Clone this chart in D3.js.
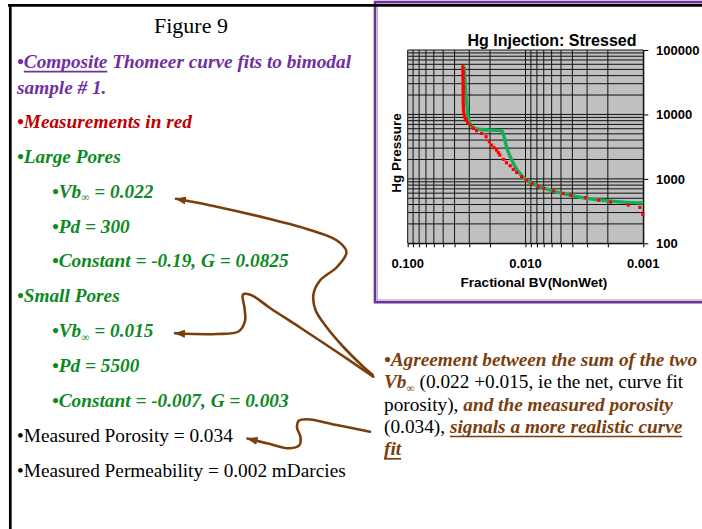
<!DOCTYPE html>
<html>
<head>
<meta charset="utf-8">
<script src="https://cdn.jsdelivr.net/npm/d3@7"></script>
<style>
  html, body { margin: 0; padding: 0; background: #fff; }
  svg { display: block; }
  text { white-space: pre; }
</style>
</head>
<body>
<svg id="slide" width="702" height="529"></svg>
<script>
// ---- Hg injection (stressed) data ----
const bvTicks = [0.1, 0.01, 0.001];
const bvTickLabels = ["0.100", "0.010", "0.001"];
const pressureTicks = [100, 1000, 10000, 100000];
const pressureTickLabels = ["100", "1000", "10000", "100000"];

// Measured points: fractional bulk volume vs. mercury pressure
const measuredBV = [
  0.0340, 0.0340, 0.0340, 0.0339, 0.0339, 0.0339, 0.0339, 0.0338, 0.0338, 0.0338, 0.0338,
  0.0338, 0.0338, 0.0338, 0.0338, 0.0338, 0.0338, 0.0337, 0.0337, 0.0336, 0.0334, 0.0330,
  0.0324, 0.0318, 0.0310, 0.0296, 0.0277, 0.0260, 0.0236, 0.0216, 0.0203, 0.0194, 0.0185,
  0.0176, 0.0170, 0.0165, 0.0154, 0.0145, 0.0135, 0.0127, 0.0119, 0.0108, 0.0098, 0.0088,
  0.0078, 0.0070, 0.0058, 0.0048, 0.0041, 0.0031, 0.0024, 0.0019, 0.00134, 0.00107, 0.00101
];
const measuredPressure = [
  55000, 51000, 47000, 43500, 40000, 37000, 34000, 31500, 29000, 26800, 24700,
  22800, 21000, 19300, 17800, 16400, 15000, 13800, 12700, 11600, 10600, 9700,
  8700, 8100, 7440, 6850, 6080, 5590, 5080, 4510, 3770, 3350, 3040,
  2800, 2550, 2340, 2010, 1780, 1600, 1400, 1260, 1080, 958, 850,
  773, 711, 647, 595, 554, 509, 469, 436, 392, 361, 281
];

// Composite (bimodal) Thomeer fit
const fitBV = [
  0.0331, 0.0325, 0.0320, 0.0314, 0.0306, 0.0292, 0.0268, 0.0243, 0.0200, 0.0159,
  0.0152, 0.0145, 0.0131, 0.0115, 0.0098, 0.0075, 0.0058, 0.0042, 0.0030, 0.0022,
  0.00148, 0.0010
];
const fitPressure = [
  55000, 30000, 20000, 13500, 8700, 6850, 6080, 5870, 5700, 5580,
  4500, 3150, 1960, 1290, 957, 754, 647, 560, 497, 463,
  436, 421
];

// ---- colours / fonts ----
const purple = "#7030a0", darkRed = "#c00000", green = "#0d8a1f",
      brown = "#7a3e0d", fitGreen = "#16ad5a", markRed = "#ff0000";
const serif = "'Liberation Serif', 'Times New Roman', serif";
const sans = "'Liberation Sans', Arial, sans-serif";

const svg = d3.select("#slide");
svg.append("rect").attr("width", 702).attr("height", 529).attr("fill", "#fff");

const defs = svg.append("defs");
defs.append("marker")
  .attr("id", "arrowHead")
  .attr("viewBox", "0 0 11 8")
  .attr("refX", 10).attr("refY", 4)
  .attr("markerWidth", 11).attr("markerHeight", 8)
  .attr("markerUnits", "userSpaceOnUse")
  .attr("orient", "auto")
  .append("path").attr("d", "M0,0 L11,4 L0,8 Z").attr("fill", brown);

// ---- chart panel frame ----
svg.append("rect")
  .attr("x", 375).attr("y", 2).attr("width", 340).attr("height", 300.2)
  .attr("fill", "#fff").attr("stroke", purple).attr("stroke-width", 2.6);
svg.append("rect")
  .attr("x", 377.3).attr("y", 4).attr("width", 340).attr("height", 296)
  .attr("fill", "none").attr("stroke", "#a0a0a0").attr("stroke-width", 1);

// ---- plot ----
const plot = { left: 407.7, right: 643.3, top: 50, bottom: 243.3 };
const x = d3.scaleLog().domain([0.1, 0.001]).range([plot.left, plot.right]);
const y = d3.scaleLog().domain([100, 100000]).range([plot.bottom, plot.top]);

const chart = svg.append("g");
chart.append("rect")
  .attr("x", plot.left).attr("y", plot.top)
  .attr("width", plot.right - plot.left).attr("height", plot.bottom - plot.top)
  .attr("fill", "#c0c0c0");

// log gridlines (every 1..9 multiple of each decade)
chart.append("g").selectAll("line.vx").data(x.ticks()).join("line")
  .attr("x1", d => x(d)).attr("x2", d => x(d))
  .attr("y1", plot.top).attr("y2", plot.bottom)
  .attr("stroke", "#111").attr("stroke-width", 1);
chart.append("g").selectAll("line.hy").data(y.ticks()).join("line")
  .attr("x1", plot.left).attr("x2", plot.right)
  .attr("y1", d => y(d)).attr("y2", d => y(d))
  .attr("stroke", "#111").attr("stroke-width", 1);

// bottom axis: ticks at every gridline, labels on decades
const xAxis = chart.append("g")
  .attr("transform", `translate(0,${plot.bottom})`)
  .call(d3.axisBottom(x).tickValues(x.ticks()).tickSize(4).tickSizeOuter(0).tickFormat(""));
xAxis.select(".domain").attr("stroke", "#000");
xAxis.selectAll(".tick line").attr("stroke", "#000");
chart.append("g").selectAll("text").data(bvTicks).join("text")
  .attr("x", d => x(d)).attr("y", 268)
  .attr("text-anchor", "middle")
  .attr("font-family", sans).attr("font-weight", "bold").attr("font-size", 13)
  .attr("fill", "#000")
  .text((d, i) => bvTickLabels[i]);

// right axis
const yAxis = chart.append("g")
  .attr("transform", `translate(${plot.right},0)`)
  .call(d3.axisRight(y).tickValues(pressureTicks).tickSize(5).tickSizeOuter(0)
    .tickPadding(7.7).tickFormat((d, i) => pressureTickLabels[i]));
yAxis.select(".domain").attr("stroke", "#000");
yAxis.selectAll(".tick line").attr("stroke", "#000");
yAxis.selectAll(".tick text")
  .attr("font-family", sans).attr("font-weight", "bold").attr("font-size", 13)
  .attr("fill", "#000");

// titles
chart.append("text")
  .attr("x", 552).attr("y", 45.7).attr("text-anchor", "middle")
  .attr("font-family", sans).attr("font-weight", "bold").attr("font-size", 16)
  .text("Hg Injection: Stressed");
chart.append("text")
  .attr("x", 534).attr("y", 287.3).attr("text-anchor", "middle")
  .attr("font-family", sans).attr("font-weight", "bold").attr("font-size", 13.5)
  .text("Fractional BV(NonWet)");
chart.append("text")
  .attr("transform", "translate(400.5,153) rotate(-90)")
  .attr("text-anchor", "middle")
  .attr("font-family", sans).attr("font-weight", "bold").attr("font-size", 13.5)
  .text("Hg Pressure");

// fitted curve
const fitData = d3.zip(fitBV, fitPressure);
chart.append("path")
  .datum(fitData)
  .attr("d", d3.line().x(d => x(d[0])).y(d => y(d[1])).curve(d3.curveMonotoneX))
  .attr("fill", "none").attr("stroke", fitGreen).attr("stroke-width", 3.4)
  .attr("stroke-linejoin", "round");

// measured points
const measured = d3.zip(measuredBV, measuredPressure);
chart.append("g").selectAll("rect").data(measured).join("rect")
  .attr("x", d => x(d[0]) - 1.6).attr("y", d => y(d[1]) - 1.6)
  .attr("width", 3.2).attr("height", 3.2)
  .attr("fill", markRed);

// ---- slide border ----
svg.append("line").attr("x1", 8).attr("x2", 702).attr("y1", 5.3).attr("y2", 5.3)
  .attr("stroke", "#000").attr("stroke-width", 2.8);
svg.append("line").attr("x1", 10.3).attr("x2", 10.3).attr("y1", 4).attr("y2", 529)
  .attr("stroke", "#000").attr("stroke-width", 2.7);

// ---- rich text helper ----
function richLine(x0, y0, segs, size, anchor) {
  const t = svg.append("text")
    .attr("x", x0).attr("y", y0)
    .attr("xml:space", "preserve")
    .attr("font-family", serif).attr("font-size", size)
    .attr("text-anchor", anchor || "start");
  let shifted = false;
  const spans = segs.map(s => {
    const ts = t.append("tspan").text(s.t)
      .attr("fill", s.c || "#000")
      .attr("font-weight", s.bi ? "bold" : "normal")
      .attr("font-style", s.bi ? "italic" : "normal");
    if (s.sub) { ts.attr("font-size", 11.5).attr("dy", 3.5).attr("font-weight", "normal"); shifted = true; }
    else if (shifted) { ts.attr("dy", -3.5); shifted = false; }
    return { ts, s };
  });
  spans.forEach(({ ts, s }) => {
    if (!s.u) return;
    const n = ts.node();
    const sx = n.getStartPositionOfChar(0).x;
    const w = n.getComputedTextLength();
    svg.append("line")
      .attr("x1", sx).attr("x2", sx + w)
      .attr("y1", y0 + 3.6).attr("y2", y0 + 3.6)
      .attr("stroke", s.c || "#000").attr("stroke-width", 1.7);
  });
}

const fs = 19.3;
const L1 = 17, L2 = 52;
const step = 34.87;

richLine(191, 33, [{ t: "Figure 9" }], 22, "middle");
richLine(L1, 68, [
  { t: "•", c: purple, bi: true },
  { t: "Composite", c: purple, bi: true, u: true },
  { t: " Thomeer curve fits to bimodal", c: purple, bi: true }
], fs);
richLine(L1, 94, [{ t: "sample # 1.", c: purple, bi: true }], fs);
richLine(L1, 128, [{ t: "•Measurements in red", c: darkRed, bi: true }], fs);
richLine(L1, 128 + step, [{ t: "•Large Pores", c: green, bi: true }], fs);
richLine(L2, 128 + step * 2, [
  { t: "•Vb", c: green, bi: true }, { t: "∞", c: green, sub: true },
  { t: " = 0.022", c: green, bi: true }
], fs);
richLine(L2, 128 + step * 3, [{ t: "•Pd = 300", c: green, bi: true }], fs);
richLine(L2, 128 + step * 4, [{ t: "•Constant = -0.19, G = 0.0825", c: green, bi: true }], fs);
richLine(L1, 128 + step * 5, [{ t: "•Small Pores", c: green, bi: true }], fs);
richLine(L2, 128 + step * 6, [
  { t: "•Vb", c: green, bi: true }, { t: "∞", c: green, sub: true },
  { t: " = 0.015", c: green, bi: true }
], fs);
richLine(L2, 128 + step * 7, [{ t: "•Pd = 5500", c: green, bi: true }], fs);
richLine(L2, 128 + step * 8, [{ t: "•Constant = -0.007, G = 0.003", c: green, bi: true }], fs);
richLine(L1, 128 + step * 9, [{ t: "•Measured Porosity = 0.034" }], fs);
richLine(L1, 128 + step * 10, [{ t: "•Measured Permeability = 0.002 mDarcies" }], fs);

// right-hand note
const R = 384, rStep = 22.3, r0 = 366;
richLine(R, r0, [{ t: "•Agreement between the sum of the two", c: brown, bi: true }], fs);
richLine(R, r0 + rStep, [
  { t: "Vb", c: brown, bi: true }, { t: "∞", c: brown, sub: true },
  { t: " (0.022 +0.015, ie the net, curve fit" }
], fs);
richLine(R, r0 + rStep * 2, [
  { t: "porosity), " }, { t: "and the measured porosity", c: brown, bi: true }
], fs);
richLine(R, r0 + rStep * 3, [
  { t: "(0.034), " }, { t: "signals a more realistic curve", c: brown, bi: true, u: true }
], fs);
richLine(R, r0 + rStep * 4, [{ t: "fit", c: brown, bi: true, u: true }], fs);

// ---- connector arrows from the note to the quoted values ----
const arrowRoutes = [
  [[372.7, 375], [363, 366.5], [343, 346.5], [326.5, 327], [315.5, 310], [313.5, 294],
   [320, 280.5], [337, 267], [346.5, 252], [337, 240.5], [310, 230], [266.7, 218.3],
   [216.7, 206.7], [176, 198.8]],
  [[373.3, 376.7], [340, 354], [300, 327.5], [270, 308], [251, 295], [243, 294.5],
   [244.5, 308], [245, 321], [238.5, 331.5], [216.7, 334], [175, 333.3]],
  [[370, 431.7], [336.7, 425], [307, 419.3], [298.5, 421], [297, 427.5], [300.5, 437],
   [299.5, 445], [290, 448.3], [268, 443.5], [247.5, 438.5]]
];
const arrowLine = d3.line().curve(d3.curveCatmullRom.alpha(0.5));
svg.append("g").selectAll("path").data(arrowRoutes).join("path")
  .attr("d", arrowLine)
  .attr("fill", "none").attr("stroke", brown).attr("stroke-width", 2.6)
  .attr("stroke-linecap", "round")
  .attr("marker-end", "url(#arrowHead)");
</script>
</body>
</html>
